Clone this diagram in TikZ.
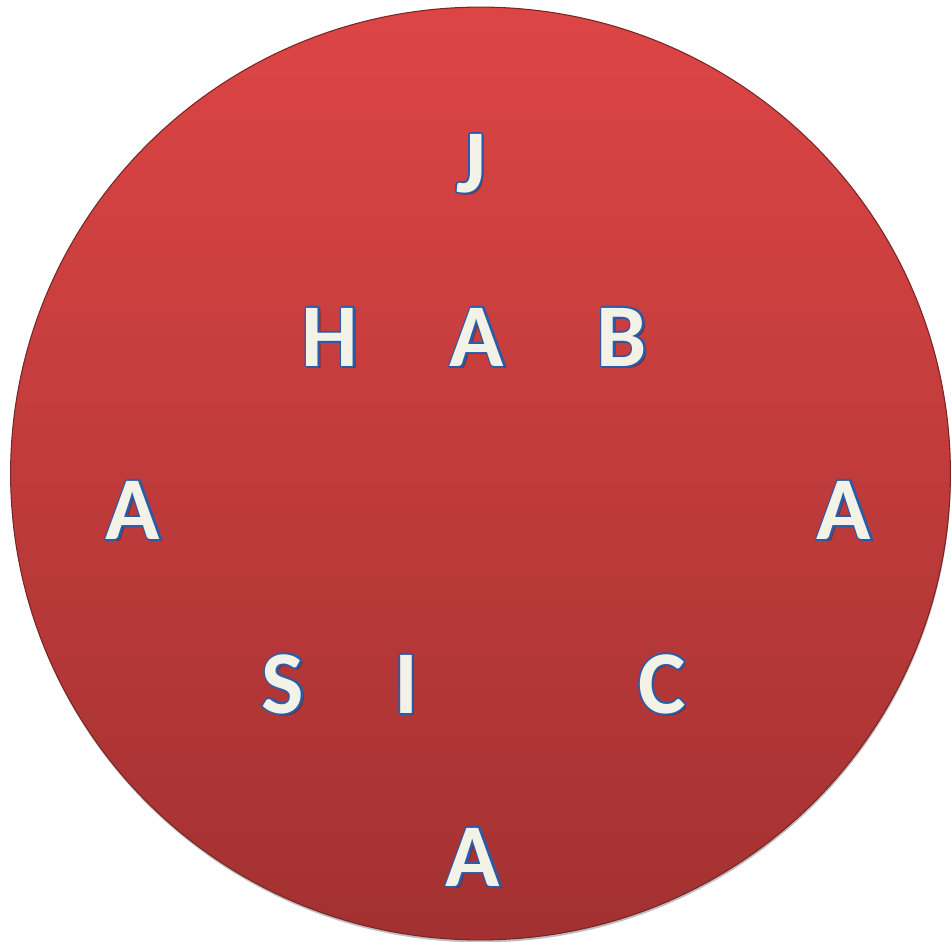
\documentclass[tikz,border=0pt]{standalone}
\usepackage{fontspec}
\newfontfamily\capfont{Carlito}
\usepackage{xcolor}

\definecolor{discTop}{HTML}{DD4545}
\definecolor{discBot}{HTML}{A33131}
\definecolor{capFill}{HTML}{F3F2E7}
\definecolor{capEdge}{HTML}{2B5BA6}
\definecolor{capShadow}{HTML}{7A2424}

% cream letter with a blue rim and a small drop shadow
\newcommand\capletter[1]{%
  \rlap{\kern1.4pt\raisebox{-1.4pt}{\textcolor{capShadow}{#1}}}%
  \rlap{\special{pdf:literal direct 1 Tr 2.2 w 1 j 0.169 0.357 0.651 RG}%
        #1\special{pdf:literal direct 0 Tr}}%
  #1}

\begin{document}
\begin{tikzpicture}[
    x=0.02cm, y=-0.02cm,
    disc/.style={top color=discTop, bottom color=discBot,
                 draw=discBot!75!black, line width=0.6pt},
    capital/.style={anchor=base, inner sep=0pt, text=capFill,
                    font=\capfont\bfseries\fontsize{51}{51}\selectfont},
]
  \useasboundingbox (0,0) rectangle (951,941);

  \fill[black, opacity=0.25] (481,476) ellipse [x radius=9.4cm, y radius=9.33cm];
  \path[disc] (480.5,473.5) ellipse [x radius=9.4cm, y radius=9.33cm];

  % top
  \node[capital] (j)  at (471,192) {\capletter{J}};

  % second row
  \node[capital] (h)  at (330,366) {\capletter{H}};
  \node[capital] (a1) at (477,366) {\capletter{A}};
  \node[capital] (b)  at (622,366) {\capletter{B}};

  % sides
  \node[capital] (a2) at (133,539) {\capletter{A}};
  \node[capital] (a3) at (844,539) {\capletter{A}};

  % fourth row
  \node[capital] (s)  at (283,713) {\capletter{S}};
  \node[capital] (i)  at (406,713) {\capletter{I}};
  \node[capital] (c)  at (662,713) {\capletter{C}};

  % bottom
  \node[capital] (a4) at (473,886) {\capletter{A}};

\end{tikzpicture}
\end{document}
